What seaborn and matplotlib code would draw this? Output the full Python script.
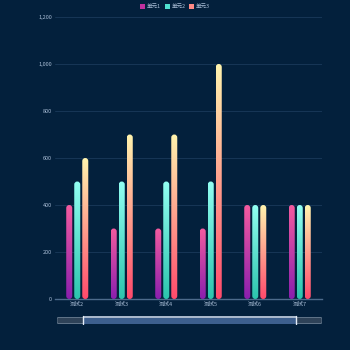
import numpy as np
import pandas as pd
import matplotlib
matplotlib.use("Agg")
import matplotlib.pyplot as plt
import seaborn as sns
from matplotlib.patches import FancyBboxPatch, Patch, Rectangle
from matplotlib.colors import LinearSegmentedColormap, to_rgba

categories = ["测试2", "测试3", "测试4", "测试5", "测试6", "测试7"]
series_names = ["单元1", "单元2", "单元3"]
unit1 = [400, 300, 300, 300, 400, 400]
unit2 = [500, 500, 500, 500, 400, 400]
unit3 = [600, 700, 700, 1000, 400, 400]
y_ticks = [0, 200, 400, 600, 800, 1000, 1200]

BG = "#03203c"
TXT = "#a9bdd6"
gradients = {
    "单元1": ("#8a1fae", "#f45b9f"),   # bottom, top
    "单元2": ("#2cc4ad", "#92fff2"),
    "单元3": ("#ff4a6c", "#fff4ae"),
}
legend_colors = {"单元1": "#c0309f", "单元2": "#4fe0cf", "单元3": "#ff8a86"}

sns.set_style("dark")
plt.rcParams["font.family"] = ["Noto Sans CJK SC", "DejaVu Sans"]

df = pd.DataFrame({
    "cat": categories * 3,
    "val": unit1 + unit2 + unit3,
    "series": [s for s in series_names for _ in categories],
})

fig = plt.figure(figsize=(3.5, 3.5), dpi=100, facecolor=BG)
ax = fig.add_axes([55 / 350, 51 / 350, 267 / 350, 282 / 350])
ax.set_facecolor(BG)

pal = {s: legend_colors[s] for s in series_names}
sns.barplot(data=df, x="cat", y="val", hue="series", order=categories,
            hue_order=series_names, palette=pal, width=0.54, gap=0.25,
            ax=ax, legend=False, saturation=1)

ax.set_xlim(-0.5, len(categories) - 0.5)
ax.set_ylim(0, 1200)
ax.set_yticks(y_ticks)
ax.set_yticklabels([f"{v:,}" for v in y_ticks])
ax.set_xlabel("")
ax.set_ylabel("")
ax.grid(axis="y", color="#173656", linewidth=0.7)
ax.grid(axis="x", visible=False)
ax.set_axisbelow(True)
for sp in ["top", "right", "left"]:
    ax.spines[sp].set_visible(False)
ax.spines["bottom"].set_color("#4d6b8c")
ax.spines["bottom"].set_linewidth(1.0)
ax.tick_params(axis="y", length=0, labelsize=4, labelcolor=TXT, pad=2)
ax.tick_params(axis="x", length=0, labelsize=4, labelcolor=TXT, pad=2)

# rounded gradient bars
fig.canvas.draw()
px_x = 267 / 6.0          # pixels per x unit
px_y = 282 / 1200.0       # pixels per y unit
r_px = 3.0
r_x = r_px / px_x
aspect = (r_px / px_y) / r_x

col2name = {to_rgba(v)[:3]: k for k, v in legend_colors.items()}
bars = list(ax.patches)
for p in bars:
    fc = tuple(round(c, 4) for c in p.get_facecolor()[:3])
    name = None
    for k, v in col2name.items():
        if np.allclose(k, fc, atol=0.01):
            name = v
    if name is None:
        continue
    x0, y0 = p.get_x(), p.get_y()
    w, h = p.get_width(), p.get_height()
    p.set_visible(False)
    if h <= 0:
        continue
    clip = FancyBboxPatch((x0, y0), w, h,
                          boxstyle=f"round,pad=0,rounding_size={r_x}",
                          mutation_aspect=aspect, facecolor="none",
                          edgecolor="none", transform=ax.transData)
    ax.add_patch(clip)
    cmap = LinearSegmentedColormap.from_list("g", list(gradients[name]))
    grad = np.linspace(0, 1, 256).reshape(-1, 1)
    im = ax.imshow(grad, cmap=cmap, aspect="auto", origin="lower",
                   extent=(x0, x0 + w, y0, y0 + h), zorder=3,
                   interpolation="bilinear")
    im.set_clip_path(clip)

ax.set_xlim(-0.5, len(categories) - 0.5)
ax.set_ylim(0, 1200)

# legend
handles = [Patch(facecolor=legend_colors[s], edgecolor="none", label=s) for s in series_names]
leg = fig.legend(handles=handles, loc="upper center", bbox_to_anchor=(0.5, 1.003),
                 ncol=3, frameon=False, fontsize=4, handlelength=0.9,
                 handleheight=0.9, handletextpad=0.3, columnspacing=0.6)
for t in leg.get_texts():
    t.set_color(TXT)

# data zoom slider
sax = fig.add_axes([57 / 350, (350 - 325) / 350, 265 / 350, 10 / 350])
sax.set_xlim(57, 322)
sax.set_ylim(325, 315)
sax.axis("off")
sax.add_patch(FancyBboxPatch((57, 317.5), 265, 6, boxstyle="round,pad=0,rounding_size=1.5",
                             facecolor="#2e4258", edgecolor="#6c7f93", linewidth=0.6))
sax.add_patch(Rectangle((83, 317.5), 213, 6, facecolor="#3d5f8e", edgecolor="none"))
sax.add_patch(Rectangle((83, 316.3), 213, 1.8, facecolor="#a9b8cc", edgecolor="none"))
sax.plot([83, 83], [316, 324], color="#e6eef8", linewidth=1.0)
sax.plot([296, 296], [316, 324], color="#e6eef8", linewidth=1.0)

fig.savefig("out.png", dpi=100, facecolor=BG)
